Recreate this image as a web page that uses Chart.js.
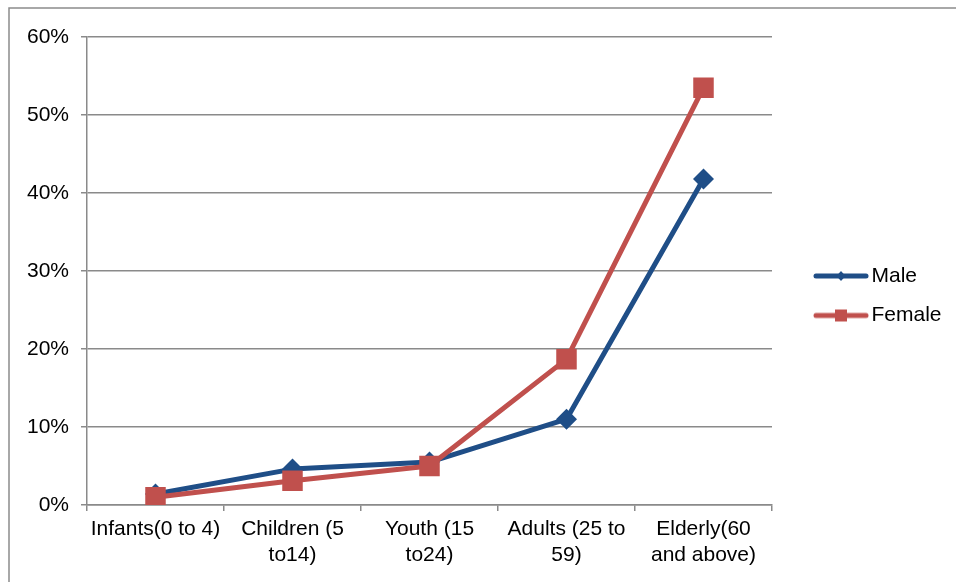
<!DOCTYPE html>
<html>
<head>
<meta charset="utf-8">
<script src="https://cdn.jsdelivr.net/npm/chart.js@4/dist/chart.umd.min.js"></script>
<style>
  html, body { margin: 0; padding: 0; background: #ffffff; }
  #wrap { position: relative; width: 956px; height: 582px; }
</style>
</head>
<body>
<div id="wrap"><canvas id="c" width="956" height="582"></canvas></div>
<script>
// ---- data ----
const categories = [
  "Infants(0 to 4)",
  ["Children (5", "to14)"],
  ["Youth (15", "to24)"],
  ["Adults (25 to", "59)"],
  ["Elderly(60", "and above)"]
];
const seriesNames = ["Male", "Female"];
const maleValues = [1.4, 4.6, 5.5, 11.0, 41.8];
const femaleValues = [1.0, 3.1, 5.0, 18.7, 53.5];
const yTicks = [0, 10, 20, 30, 40, 50, 60];

// ---- styles ----
const BLUE = "#1f4e87";
const RED = "#c0504d";
const GRID = "#8a8a8a";
const FONT = { family: "'Liberation Sans', Arial, sans-serif", size: 21, lineHeight: 1.2 };

function legendIcon(color, shape) {
  const cv = document.createElement("canvas");
  cv.width = 62; cv.height = 20;
  const g = cv.getContext("2d");
  g.strokeStyle = color; g.lineWidth = 5; g.lineCap = "round";
  g.beginPath(); g.moveTo(9, 10); g.lineTo(59, 10); g.stroke();
  g.fillStyle = color;
  if (shape === "diamond") {
    g.beginPath(); g.moveTo(34, 5); g.lineTo(38.5, 10); g.lineTo(34, 15); g.lineTo(29.5, 10); g.closePath(); g.fill();
  } else {
    g.fillRect(28, 4, 12, 12);
  }
  return cv;
}
const legendIcons = [legendIcon(BLUE, "diamond"), legendIcon(RED, "square")];

const layoutPlugin = {
  id: "layoutFix",
  beforeLayout(chart) {
    const lg = chart.legend;
    if (lg && !lg._fixed) {
      const orig = lg.fit.bind(lg);
      lg.fit = function () { orig(); this.width = 956 - 772; };
      lg._fixed = true;
    }
  },
  afterLayout(chart) {
    const lg = chart.legend;
    if (!lg) return;
    const P = lg.options.labels.padding;
    lg.left = 815 - P;
    lg.right = 956;
    lg.top = 265.5 - P;
    lg.bottom = 582;
  },
  beforeDraw(chart) {
    const ctx = chart.ctx;
    ctx.save();
    ctx.strokeStyle = "#8c8c8c";
    ctx.lineWidth = 1.5;
    ctx.beginPath();
    ctx.moveTo(9, 582); ctx.lineTo(9, 8); ctx.lineTo(956, 8);
    ctx.stroke();
    ctx.restore();
  }
};

new Chart(document.getElementById("c"), {
  type: "line",
  data: {
    labels: categories,
    datasets: [
      {
        label: seriesNames[0], data: maleValues, order: 1,
        borderColor: BLUE, backgroundColor: BLUE, borderWidth: 5,
        borderCapStyle: "round", borderJoinStyle: "round",
        pointStyle: "rectRot", pointRadius: 10.5, pointHoverRadius: 10.5,
        pointBackgroundColor: BLUE, pointBorderColor: BLUE, pointBorderWidth: 0,
        tension: 0, fill: false
      },
      {
        label: seriesNames[1], data: femaleValues, order: 0,
        borderColor: RED, backgroundColor: RED, borderWidth: 5,
        borderCapStyle: "round", borderJoinStyle: "round",
        pointStyle: "rect", pointRadius: 14.5, pointHoverRadius: 14.5,
        pointBackgroundColor: RED, pointBorderColor: RED, pointBorderWidth: 0,
        tension: 0, fill: false
      }
    ]
  },
  options: {
    responsive: false,
    animation: false,
    events: [],
    layout: { padding: { top: 37, left: 0, right: 0, bottom: 0 } },
    plugins: {
      title: { display: false },
      tooltip: { enabled: false },
      legend: {
        display: true,
        position: "right",
        align: "start",
        labels: {
          usePointStyle: true,
          pointStyleWidth: 46,
          padding: 18.5,
          color: "#000000",
          font: FONT,
          sort: (a, b) => a.datasetIndex - b.datasetIndex,
          generateLabels(chart) {
            const items = Chart.defaults.plugins.legend.labels.generateLabels(chart);
            items.forEach(it => { it.pointStyle = legendIcons[it.datasetIndex]; });
            return items;
          }
        }
      }
    },
    scales: {
      x: {
        type: "category",
        offset: true,
        grid: { offset: true, drawOnChartArea: false, drawTicks: true, tickLength: 6, color: GRID, lineWidth: 1.5 },
        border: { display: true, color: GRID, width: 1.5 },
        ticks: { color: "#000000", font: FONT, maxRotation: 0, minRotation: 0, autoSkip: false, padding: 6 },
        afterFit(scale) { scale.height = 77; }
      },
      y: {
        min: yTicks[0],
        max: yTicks[yTicks.length - 1],
        afterBuildTicks(scale) { scale.ticks = yTicks.map(v => ({ value: v })); },
        grid: { drawTicks: true, tickLength: 6, color: GRID, lineWidth: 1.5 },
        border: { display: true, color: GRID, width: 1.5 },
        ticks: { color: "#000000", font: FONT, padding: 12, callback: v => v + "%" },
        afterFit(scale) { scale.width = 87; }
      }
    }
  },
  plugins: [layoutPlugin]
});
</script>
</body>
</html>
